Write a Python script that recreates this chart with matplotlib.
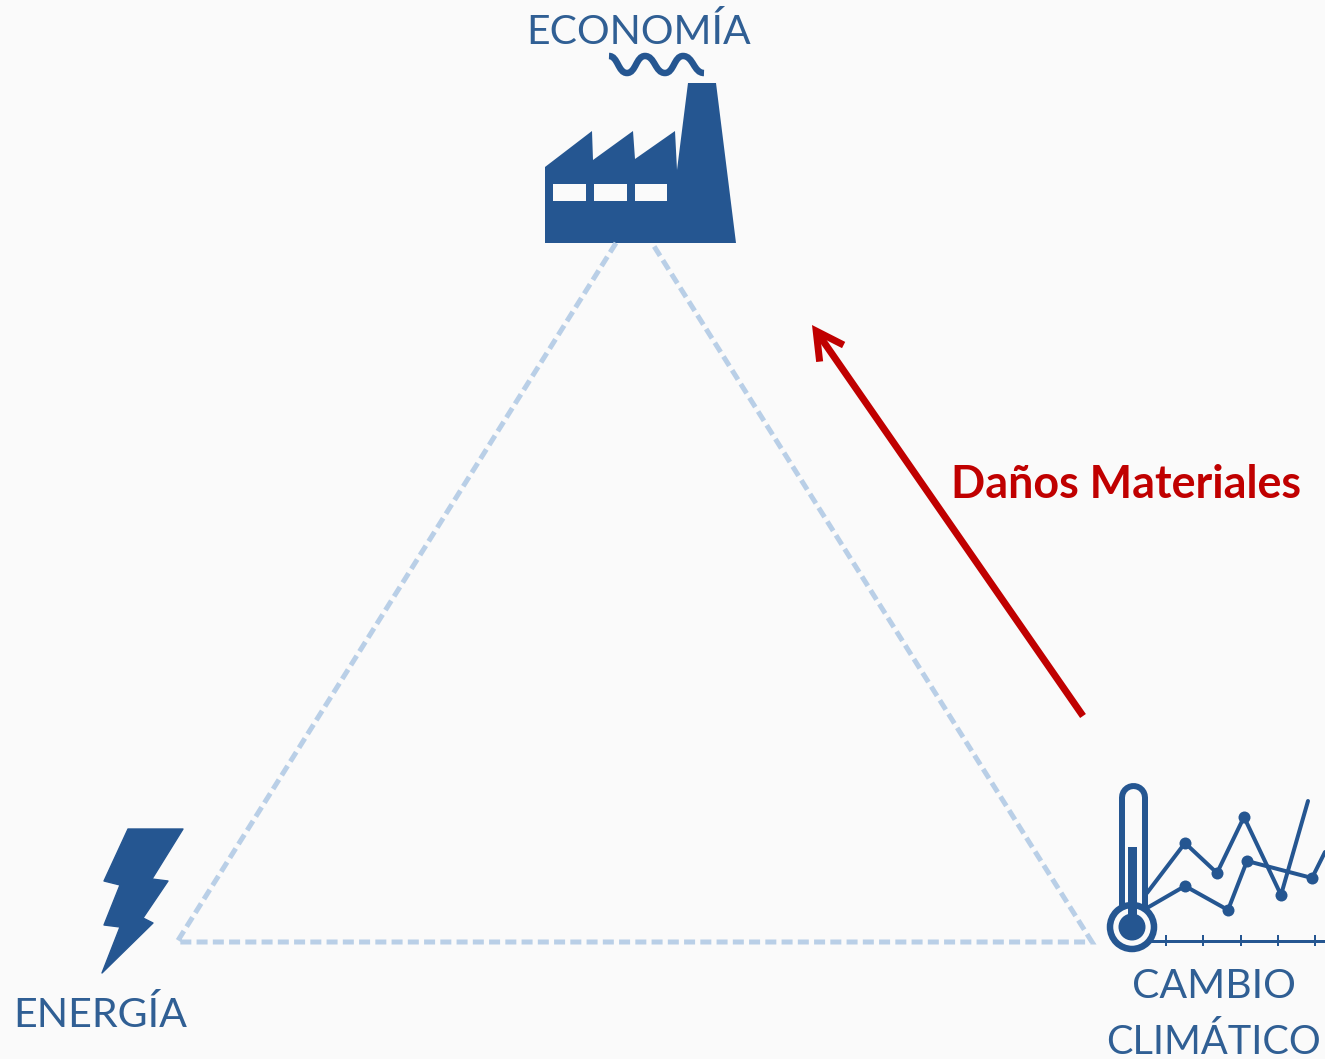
import matplotlib
matplotlib.use('Agg')
import matplotlib.pyplot as plt
from matplotlib.patches import Polygon, Circle, Rectangle, FancyArrowPatch, PathPatch
from matplotlib.path import Path

BG = '#fafafa'
BLUE = '#255691'
TEXT_BLUE = '#305f94'
DASH = '#b9cfe7'
RED = '#c00000'

# triangle between the three nodes
triangle_x = [616, 177, 1092, 652]
triangle_y = [243, 942, 942, 243]

# factory
factory_x = [545, 545, 592, 593, 633, 635, 675, 677, 688, 716, 736]
factory_y = [243, 167, 131, 160, 131, 159, 131, 170, 83, 83, 243]
window_x = [553, 594, 635]
window_w = [33, 33, 32]
smoke_x = [609, 627, 645, 665, 683, 704]
smoke_y = [56, 73, 56, 73, 56, 73]

# lightning bolt
bolt_x = [128, 183, 152, 168, 143, 153, 102, 120, 104, 120, 104]
bolt_y = [829, 829, 879, 881, 918, 923, 973, 927, 925, 885, 881]

# climate chart
line1_x = [1147, 1185, 1217, 1244, 1281, 1308]
line1_y = [893, 843, 873, 817, 895, 801]
line2_x = [1147, 1185, 1228, 1247, 1312, 1325]
line2_y = [908, 886, 910, 861, 878, 852]
tick_x = [1166, 1203, 1241, 1278, 1315]

# arrow
arrow_start = (1083, 716)
arrow_end = (812, 325)


def px(width):
    return width * 72 / 100


def wave_path(xs, ys):
    verts = [(xs[0], ys[0])]
    codes = [Path.MOVETO]
    for i in range(1, len(xs)):
        mid = (xs[i - 1] + xs[i]) / 2
        verts += [(mid, ys[i - 1]), (mid, ys[i]), (xs[i], ys[i])]
        codes += [Path.CURVE4] * 3
    return Path(verts, codes)


fig = plt.figure(figsize=(13.25, 10.59), dpi=100, facecolor=BG)
ax = fig.add_axes([0, 0, 1, 1])
ax.set_xlim(0, 1325)
ax.set_ylim(1059, 0)
ax.axis('off')

ax.plot(triangle_x, triangle_y, color=DASH, lw=px(5),
        dashes=(2.2, 1.05), dash_joinstyle='miter')

ax.add_patch(Polygon(list(zip(factory_x, factory_y)), closed=True, fc=BLUE, ec='none'))
for x, w in zip(window_x, window_w):
    ax.add_patch(Rectangle((x, 184), w, 17, fc=BG, ec='none'))
ax.add_patch(PathPatch(wave_path(smoke_x, smoke_y), fc='none', ec=BLUE, lw=px(6.5), capstyle='butt'))

ax.add_patch(Polygon(list(zip(bolt_x, bolt_y)), closed=True, fc=BLUE, ec=BLUE, lw=1, joinstyle='round'))

ax.plot(line1_x, line1_y, color=BLUE, lw=px(4), solid_capstyle='round', zorder=2)
ax.plot(line1_x[1:-1], line1_y[1:-1], 'o', color=BLUE, ms=px(12), mew=0, zorder=2)
ax.plot(line2_x, line2_y, color=BLUE, lw=px(4), solid_capstyle='round', zorder=2)
ax.plot(line2_x[1:-1], line2_y[1:-1], 'o', color=BLUE, ms=px(12), mew=0, zorder=2)
ax.plot([1150, 1325], [941, 941], color=BLUE, lw=px(3), zorder=2)
ax.vlines(tick_x, 935, 946, color=BLUE, lw=px(2), zorder=2)

# thermometer
ax.plot([1132.5, 1132.5], [797, 915], color=BLUE, lw=px(29), solid_capstyle='round', zorder=3)
ax.plot([1132.5, 1132.5], [797, 915], color=BG, lw=px(17), solid_capstyle='round', zorder=3)
ax.add_patch(Circle((1132, 927), 22, fc=BG, ec=BLUE, lw=px(6.5), zorder=4))
ax.add_patch(Rectangle((1128, 847), 9, 75, fc=BLUE, ec='none', zorder=5))
ax.add_patch(Circle((1132, 927), 13.5, fc=BLUE, ec='none', zorder=5))

ax.add_patch(FancyArrowPatch(arrow_start, arrow_end, arrowstyle='->,head_length=6.5,head_width=3.5',
                             color=RED, lw=px(7), shrinkA=0, shrinkB=0, mutation_scale=3,
                             joinstyle='miter', capstyle='butt'))

font = 'Lato'
ax.text(638.5, 44, 'ECONOMÍA', color=TEXT_BLUE, fontsize=29.4, family=font, ha='center', va='baseline')
ax.text(100, 1027, 'ENERGÍA', color=TEXT_BLUE, fontsize=29.6, family=font, ha='center', va='baseline')
ax.text(1214, 998, 'CAMBIO', color=TEXT_BLUE, fontsize=29.5, family=font, ha='center', va='baseline')
ax.text(1213.5, 1054, 'CLIMÁTICO', color=TEXT_BLUE, fontsize=28.6, family=font, ha='center', va='baseline')
ax.text(1126, 498, 'Daños Materiales', color=RED, fontsize=32.3, family=font, weight='bold',
        ha='center', va='baseline')

fig.savefig('out.png', dpi=100, facecolor=BG)
